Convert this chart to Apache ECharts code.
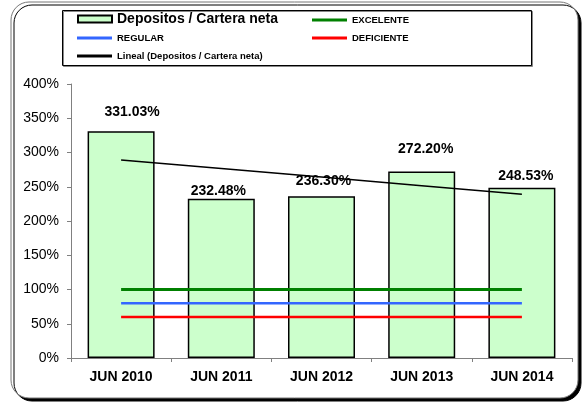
<!DOCTYPE html>
<html>
<head>
<meta charset="utf-8">
<title>Depositos / Cartera neta</title>
<script src="https://cdn.jsdelivr.net/npm/echarts@6/dist/echarts.min.js"></script>
<style>
  html, body { margin: 0; padding: 0; background: #fff; }
  #chart { width: 585px; height: 403px; }
</style>
</head>
<body>
<div id="chart"></div>
<script>
// datos
const periodos = ['JUN 2010', 'JUN 2011', 'JUN 2012', 'JUN 2013', 'JUN 2014']
const depositosCartera = [331.03, 232.48, 236.30, 272.20, 248.53]
const excelente = [100, 100, 100, 100, 100]
const regular = [80, 80, 80, 80, 80]
const deficiente = [60, 60, 60, 60, 60]
// linea de tendencia
const lineal = [289.2, 276.6, 264.1, 251.6, 239.1]

// desplazamiento de etiquetas (como en el original)
const etiquetaOffset = [[11, -10], [-3, 1], [2, -6], [4, -13], [4, -3]]

const FONT = 'Liberation Sans, Arial, sans-serif'

const chart = echarts.init(document.getElementById('chart'))

const smallLegend = (name, left, top) => ({
  data: [name],
  left: left,
  top: top,
  padding: 0,
  icon: 'rect',
  itemWidth: 35,
  itemHeight: 3,
  itemGap: 5,
  selectedMode: false,
  textStyle: { fontFamily: FONT, fontSize: 9.5, fontWeight: 'bold', color: '#000', lineHeight: 10 },
})

chart.setOption({
  animation: false,
  graphic: [
    {
      type: 'rect',
      z: -20,
      shape: { x: 11, y: 2, width: 567, height: 396, r: 18 },
      style: {
        fill: '#fff', stroke: '#777', lineWidth: 1,
        shadowColor: '#000', shadowBlur: 0, shadowOffsetX: 3, shadowOffsetY: 3,
      },
    },
    {
      type: 'rect',
      z: -10,
      shape: { x: 62.5, y: 10.5, width: 469, height: 55 },
      style: {
        fill: '#fff', stroke: '#000', lineWidth: 1,
        shadowColor: '#888', shadowBlur: 0, shadowOffsetX: 1, shadowOffsetY: 1,
      },
    },
  ],
  legend: [
    {
      data: ['Depositos / Cartera neta'],
      left: 77,
      top: 12,
      padding: 0,
      icon: 'rect',
      itemWidth: 34,
      itemHeight: 7,
      itemGap: 5,
      selectedMode: false,
      textStyle: { fontFamily: FONT, fontSize: 14, fontWeight: 'bold', color: '#000', lineHeight: 14 },
    },
    smallLegend('EXCELENTE', 312, 15),
    smallLegend('REGULAR', 77, 33),
    smallLegend('DEFICIENTE', 312, 33),
    smallLegend('Lineal (Depositos / Cartera neta)', 77, 51),
  ],
  grid: { left: 71, right: 13, top: 84, bottom: 45 },
  xAxis: {
    type: 'category',
    data: periodos,
    axisLine: { lineStyle: { color: '#808080', width: 1 } },
    axisTick: { show: true, length: 4, alignWithLabel: false, lineStyle: { color: '#808080' } },
    axisLabel: { fontFamily: FONT, fontSize: 14, fontWeight: 'bold', color: '#000', margin: 12 },
  },
  yAxis: {
    type: 'value',
    min: 0,
    max: 400,
    interval: 50,
    axisLine: { show: true, lineStyle: { color: '#808080', width: 1 } },
    axisTick: { show: true, length: 4, lineStyle: { color: '#808080' } },
    splitLine: { show: false },
    axisLabel: { fontFamily: FONT, fontSize: 14, color: '#000', margin: 12, formatter: '{value}%' },
  },
  series: [
    {
      name: 'Depositos / Cartera neta',
      type: 'bar',
      barWidth: 67,
      data: depositosCartera.map((v, i) => ({
        value: v,
        label: { offset: etiquetaOffset[i] },
      })),
      itemStyle: { color: '#CCFFCC', borderColor: '#000', borderWidth: 1.5 },
      label: {
        show: true,
        position: 'top',
        distance: 2,
        fontFamily: FONT,
        fontSize: 14,
        fontWeight: 'bold',
        color: '#000',
        formatter: (p) => p.value.toFixed(2) + '%',
      },
      z: 2,
    },
    {
      name: 'EXCELENTE',
      type: 'line',
      data: excelente,
      symbol: 'none',
      lineStyle: { color: '#008000', width: 3 },
      itemStyle: { color: '#008000' },
      z: 3,
    },
    {
      name: 'REGULAR',
      type: 'line',
      data: regular,
      symbol: 'none',
      lineStyle: { color: '#3366FF', width: 2.5 },
      itemStyle: { color: '#3366FF' },
      z: 3,
    },
    {
      name: 'DEFICIENTE',
      type: 'line',
      data: deficiente,
      symbol: 'none',
      lineStyle: { color: '#FF0000', width: 2.5 },
      itemStyle: { color: '#FF0000' },
      z: 3,
    },
    {
      name: 'Lineal (Depositos / Cartera neta)',
      type: 'line',
      data: lineal,
      symbol: 'none',
      lineStyle: { color: '#000', width: 1.5 },
      itemStyle: { color: '#000' },
      z: 4,
    },
  ],
})
</script>
</body>
</html>
